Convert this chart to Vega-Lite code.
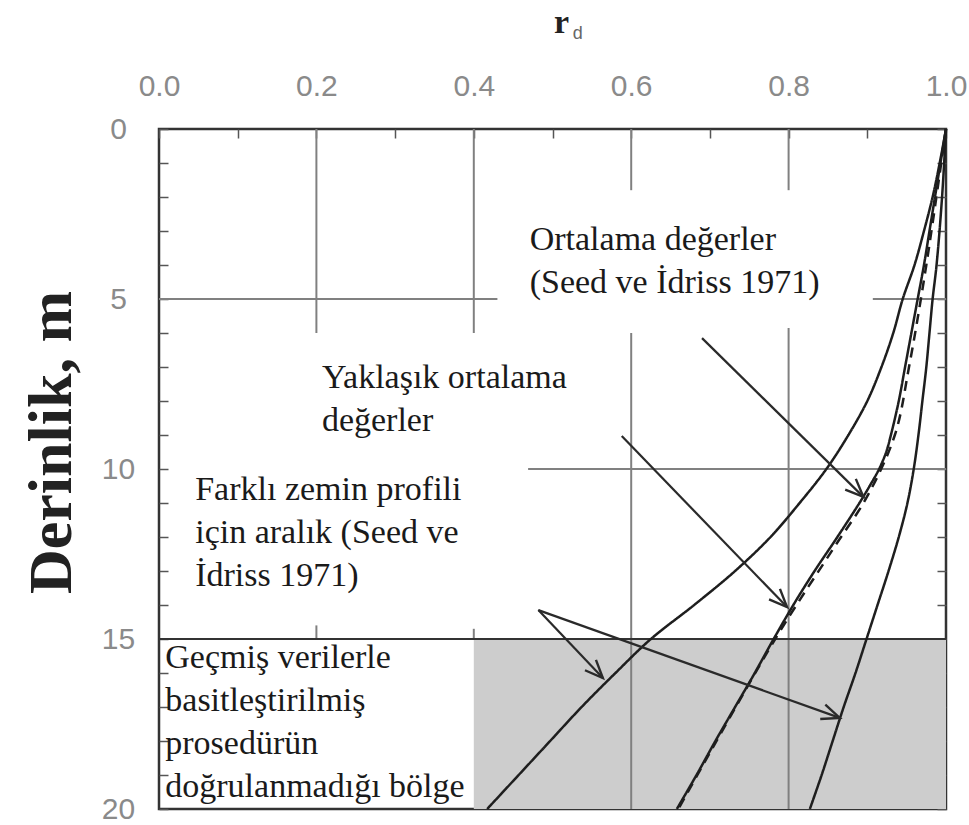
{
  "$schema": "https://vega.github.io/schema/vega-lite/v6.json",
  "width": 787,
  "height": 680,
  "autosize": {"type": "none"},
  "padding": {"left": 159, "top": 129, "right": 23, "bottom": 16},
  "background": "white",
  "config": {
    "view": {"stroke": "#333333", "strokeWidth": 2.5},
    "axis": {"grid": false}
  },
  "datasets": {
    "zone": [{"x1": 0.4, "x2": 1.0, "d1": 15, "d2": 20}],
    "grid": [
      {"x1": 0.2, "x2": 0.2, "d1": 0, "d2": 6.0, "k": "g"},
      {"x1": 0.2, "x2": 0.2, "d1": 14.6, "d2": 15, "k": "g"},
      {"x1": 0.4, "x2": 0.4, "d1": 0, "d2": 6.0, "k": "g"},
      {"x1": 0.4, "x2": 0.4, "d1": 14.7, "d2": 15, "k": "g"},
      {"x1": 0.6, "x2": 0.6, "d1": 0, "d2": 1.8, "k": "g"},
      {"x1": 0.6, "x2": 0.6, "d1": 6.0, "d2": 20, "k": "g"},
      {"x1": 0.8, "x2": 0.8, "d1": 0, "d2": 1.8, "k": "g"},
      {"x1": 0.8, "x2": 0.8, "d1": 5.85, "d2": 20, "k": "g"},
      {"x1": 0.0, "x2": 0.43, "d1": 5, "d2": 5, "k": "g"},
      {"x1": 0.907, "x2": 1.0, "d1": 5, "d2": 5, "k": "g"},
      {"x1": 0.469, "x2": 1.0, "d1": 10, "d2": 10, "k": "g"},
      {"x1": 0.0, "x2": 1.0, "d1": 15, "d2": 15, "k": "b"}
    ],
    "curves": [
      {"curve": "alt", "d": 0, "r": 1.0},
      {"curve": "alt", "d": 1, "r": 0.992},
      {"curve": "alt", "d": 2, "r": 0.983},
      {"curve": "alt", "d": 3, "r": 0.972},
      {"curve": "alt", "d": 4, "r": 0.96},
      {"curve": "alt", "d": 5, "r": 0.945},
      {"curve": "alt", "d": 6, "r": 0.933},
      {"curve": "alt", "d": 7, "r": 0.918},
      {"curve": "alt", "d": 8, "r": 0.9},
      {"curve": "alt", "d": 9, "r": 0.876},
      {"curve": "alt", "d": 10, "r": 0.848},
      {"curve": "alt", "d": 11, "r": 0.814},
      {"curve": "alt", "d": 12, "r": 0.777},
      {"curve": "alt", "d": 13, "r": 0.732},
      {"curve": "alt", "d": 14, "r": 0.68},
      {"curve": "alt", "d": 15, "r": 0.625},
      {"curve": "alt", "d": 16, "r": 0.58},
      {"curve": "alt", "d": 17, "r": 0.537},
      {"curve": "alt", "d": 18, "r": 0.497},
      {"curve": "alt", "d": 19, "r": 0.457},
      {"curve": "alt", "d": 20, "r": 0.417},
      {"curve": "ort", "d": 0, "r": 1.0},
      {"curve": "ort", "d": 1, "r": 0.993},
      {"curve": "ort", "d": 2, "r": 0.986},
      {"curve": "ort", "d": 3, "r": 0.979},
      {"curve": "ort", "d": 4, "r": 0.972},
      {"curve": "ort", "d": 5, "r": 0.964},
      {"curve": "ort", "d": 6, "r": 0.956},
      {"curve": "ort", "d": 7, "r": 0.948},
      {"curve": "ort", "d": 8, "r": 0.94},
      {"curve": "ort", "d": 9, "r": 0.93},
      {"curve": "ort", "d": 9.5, "r": 0.924},
      {"curve": "ort", "d": 10, "r": 0.915},
      {"curve": "ort", "d": 10.5, "r": 0.903},
      {"curve": "ort", "d": 11, "r": 0.89},
      {"curve": "ort", "d": 12, "r": 0.862},
      {"curve": "ort", "d": 13, "r": 0.833},
      {"curve": "ort", "d": 14, "r": 0.806},
      {"curve": "ort", "d": 15, "r": 0.781},
      {"curve": "ort", "d": 16, "r": 0.757},
      {"curve": "ort", "d": 17, "r": 0.732},
      {"curve": "ort", "d": 18, "r": 0.707},
      {"curve": "ort", "d": 19, "r": 0.683},
      {"curve": "ort", "d": 20, "r": 0.658},
      {"curve": "ust", "d": 0, "r": 1.0},
      {"curve": "ust", "d": 2, "r": 0.995},
      {"curve": "ust", "d": 4, "r": 0.988},
      {"curve": "ust", "d": 5, "r": 0.983},
      {"curve": "ust", "d": 6, "r": 0.979},
      {"curve": "ust", "d": 7, "r": 0.975},
      {"curve": "ust", "d": 8, "r": 0.97},
      {"curve": "ust", "d": 9, "r": 0.965},
      {"curve": "ust", "d": 10, "r": 0.959},
      {"curve": "ust", "d": 11, "r": 0.951},
      {"curve": "ust", "d": 12, "r": 0.94},
      {"curve": "ust", "d": 13, "r": 0.927},
      {"curve": "ust", "d": 14, "r": 0.913},
      {"curve": "ust", "d": 15, "r": 0.899},
      {"curve": "ust", "d": 16, "r": 0.885},
      {"curve": "ust", "d": 17, "r": 0.87},
      {"curve": "ust", "d": 18, "r": 0.856},
      {"curve": "ust", "d": 19, "r": 0.842},
      {"curve": "ust", "d": 20, "r": 0.827},
      {"curve": "yak", "d": 0, "r": 1.0},
      {"curve": "yak", "d": 4, "r": 0.975},
      {"curve": "yak", "d": 7, "r": 0.953},
      {"curve": "yak", "d": 9, "r": 0.935},
      {"curve": "yak", "d": 10.8, "r": 0.9},
      {"curve": "yak", "d": 12.3, "r": 0.858},
      {"curve": "yak", "d": 15, "r": 0.783},
      {"curve": "yak", "d": 20, "r": 0.66}
    ],
    "arrows": [
      {"x1": 0.69, "d1": 6.15, "x2": 0.895, "d2": 10.82},
      {"x1": 0.588, "d1": 9.03, "x2": 0.798, "d2": 14.06},
      {"x1": 0.482, "d1": 14.15, "x2": 0.564, "d2": 16.15},
      {"x1": 0.482, "d1": 14.15, "x2": 0.865, "d2": 17.32}
    ],
    "notes": [
      {"t": "Ortalama değerler\n(Seed ve İdriss 1971)", "x": 0.471, "d": 3.56},
      {"t": "Yaklaşık ortalama\ndeğerler", "x": 0.207, "d": 7.62},
      {"t": "Farklı zemin profili\niçin aralık (Seed ve\nİdriss 1971)", "x": 0.046, "d": 10.91},
      {"t": "Geçmiş verilerle\nbasitleştirilmiş\nprosedürün\ndoğrulanmadığı bölge", "x": 0.008, "d": 15.85}
    ],
    "sub": [{"t": "d", "x": 0.532, "d": -2.8}]
  },
  "resolve": {"axis": {"y": "independent"}},
  "layer": [
    {
      "data": {"name": "zone"},
      "mark": {"type": "rect", "fill": "#cdcdcd"},
      "encoding": {
        "x": {
          "field": "x1", "type": "quantitative",
          "scale": {"domain": [0, 1], "nice": false, "zero": false},
          "axis": {
            "orient": "top",
            "values": [0, 0.05, 0.1, 0.15, 0.2, 0.25, 0.3, 0.35, 0.4, 0.45, 0.5, 0.55, 0.6, 0.65, 0.7, 0.75, 0.8, 0.85, 0.9, 0.95, 1],
            "labelExpr": "round(datum.value*20) % 4 == 0 ? format(datum.value, '.1f') : ''",
            "tickSize": -9, "tickColor": "#555555", "tickWidth": 1.5,
            "domain": false,
            "labelFont": "Liberation Sans", "labelFontSize": 30, "labelColor": "#8a8a8a",
            "labelPadding": 37, "labelFlush": false, "labelOverlap": false, "labelBound": false,
            "title": "r", "titleFont": "Liberation Serif", "titleFontSize": 34, "titleFontWeight": "bold",
            "titleColor": "#222222", "titleX": 402, "titleY": -107, "titleAlign": "center", "titleBaseline": "middle"
          }
        },
        "x2": {"field": "x2"},
        "y": {
          "field": "d1", "type": "quantitative",
          "scale": {"domain": [0, 20], "reverse": true, "nice": false, "zero": false},
          "axis": {
            "orient": "left",
            "values": [0, 1, 2, 3, 4, 5, 6, 7, 8, 9, 10, 11, 12, 13, 14, 15, 16, 17, 18, 19, 20],
            "labelExpr": "datum.value % 5 == 0 ? datum.label : ''",
            "tickSize": -9, "tickColor": "#555555", "tickWidth": 1.5,
            "domain": false,
            "labelFont": "Liberation Sans", "labelFontSize": 30, "labelColor": "#8a8a8a",
            "labelAlign": "center", "labelBaseline": "middle", "labelPadding": 50,
            "labelOverlap": false, "labelBound": false,
            "title": "Derinlik, m", "titleFont": "Liberation Serif", "titleFontSize": 62, "titleFontWeight": "bold",
            "titleColor": "#222222", "titleX": -108, "titleY": 313, "titleAngle": 270,
            "titleAlign": "center", "titleBaseline": "middle"
          }
        },
        "y2": {"field": "d2"}
      }
    },
    {
      "data": {"name": "grid"},
      "mark": {"type": "rule", "strokeWidth": 2},
      "encoding": {
        "x": {"field": "x1", "type": "quantitative"},
        "x2": {"field": "x2"},
        "y": {
          "field": "d1", "type": "quantitative",
          "axis": {
            "orient": "right",
            "values": [0, 1, 2, 3, 4, 5, 6, 7, 8, 9, 10, 11, 12, 13, 14, 15, 16, 17, 18, 19, 20],
            "labels": false, "tickSize": -9, "tickColor": "#555555", "tickWidth": 1.5,
            "domain": false, "title": null
          }
        },
        "y2": {"field": "d2"},
        "color": {"field": "k", "type": "nominal", "scale": {"domain": ["g", "b"], "range": ["#808080", "#333333"]}, "legend": null}
      }
    },
    {
      "data": {"name": "curves"},
      "mark": {"type": "line", "color": "#1e1e1e", "strokeWidth": 2.5, "interpolate": "catmull-rom"},
      "encoding": {
        "x": {"field": "r", "type": "quantitative"},
        "y": {"field": "d", "type": "quantitative", "axis": null},
        "detail": {"field": "curve"},
        "order": {"field": "d", "type": "quantitative"},
        "strokeDash": {"field": "curve", "type": "nominal", "scale": {"domain": ["alt", "ort", "ust", "yak"], "range": [[1, 0], [1, 0], [1, 0], [10, 7]]}, "legend": null}
      }
    },
    {
      "data": {"name": "arrows"},
      "mark": {"type": "rule", "color": "#2a2a2a", "strokeWidth": 2.2},
      "encoding": {
        "x": {"field": "x1", "type": "quantitative"},
        "y": {"field": "d1", "type": "quantitative", "axis": null},
        "x2": {"field": "x2"},
        "y2": {"field": "d2"}
      }
    },
    {
      "data": {"name": "arrows"},
      "transform": [{"calculate": "atan2((datum.d2 - datum.d1) * 34, (datum.x2 - datum.x1) * 787) * 180 / PI", "as": "ang"}],
      "mark": {"type": "point", "shape": "M-1,-0.42L0,0L-1,0.42", "filled": false, "stroke": "#2a2a2a", "strokeWidth": 2.4, "size": 1300, "opacity": 1},
      "encoding": {
        "x": {"field": "x2", "type": "quantitative"},
        "y": {"field": "d2", "type": "quantitative", "axis": null},
        "angle": {"field": "ang", "type": "quantitative", "scale": null}
      }
    },
    {
      "data": {"name": "notes"},
      "mark": {"type": "text", "align": "left", "baseline": "alphabetic", "font": "Liberation Serif", "fontSize": 34, "lineHeight": 43, "lineBreak": "\n", "color": "#1a1a1a"},
      "encoding": {
        "x": {"field": "x", "type": "quantitative"},
        "y": {"field": "d", "type": "quantitative", "axis": null},
        "text": {"field": "t"}
      }
    },
    {
      "data": {"name": "sub"},
      "mark": {"type": "text", "align": "center", "baseline": "middle", "font": "Liberation Sans", "fontSize": 18, "color": "#666666"},
      "encoding": {
        "x": {"field": "x", "type": "quantitative"},
        "y": {"field": "d", "type": "quantitative", "axis": null},
        "text": {"field": "t"}
      }
    }
  ]
}
